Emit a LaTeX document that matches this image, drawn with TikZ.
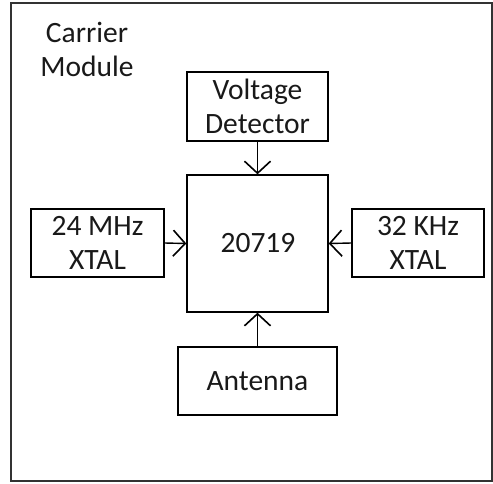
\documentclass[tikz,border=0pt]{standalone}
\usepackage{fontspec}
\setmainfont{Carlito}
\usetikzlibrary{arrows.meta}
\tikzset{
  txt/.style={font=\fontsize{29.5}{34}\selectfont, text=black!90},
  blk/.style={txt, draw, line width=1.4pt, inner sep=0pt, align=center},
  conn/.style={line width=1.4pt, -{Straight Barb[length=12pt, width=26pt, line width=1.6pt]}}}
\begin{document}
\begin{tikzpicture}[x=1pt,y=-1pt]
\useasboundingbox (0,0) rectangle (493,483);
\draw[line width=1.3pt, draw=black!80] (11,3) rectangle (492,481);
\node[txt, align=center] (title) at (87,49) {Carrier\\Module};
\node[blk, minimum width=141pt, minimum height=69pt] (vd) at (257.5,106.5) {Voltage\\Detector};
\node[blk, minimum width=141pt, minimum height=137pt] (chip) at (257.5,243.5) {};
\node[txt] (chiplbl) at (258,243) {20719};
\node[blk, minimum width=133pt, minimum height=68pt] (x24) at (97.5,243) {24 MHz\\XTAL};
\node[blk, minimum width=132pt, minimum height=68pt] (x32) at (418,243) {32 KHz\\XTAL};
\node[blk, minimum width=159pt, minimum height=68pt] (ant) at (257.5,381) {Antenna};
\draw[conn] (vd.south) -- (chip.north);
\draw[conn] (x24.east) -- (chip.west);
\draw[conn] (x32.west) -- (chip.east);
\draw[conn] (ant.north) -- (chip.south);
\end{tikzpicture}
\end{document}
